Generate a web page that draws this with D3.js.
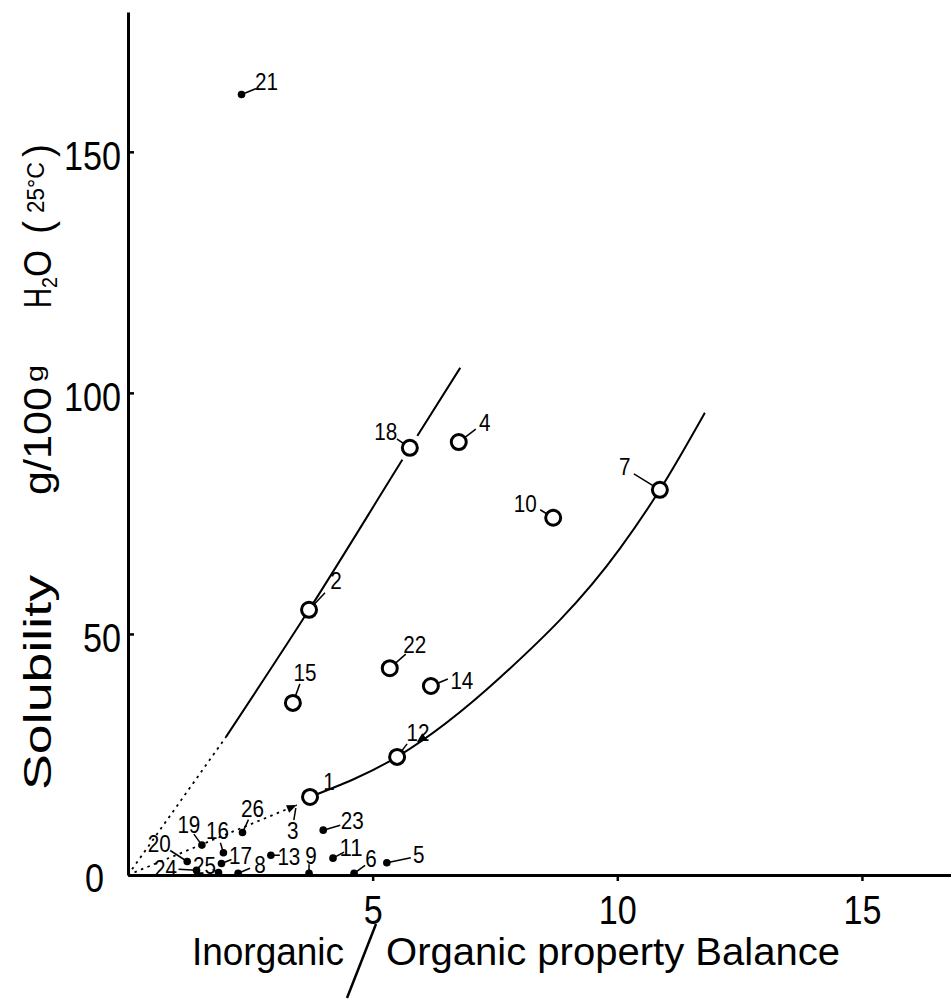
<!DOCTYPE html>
<meta charset="utf-8">
<style>
body { margin: 0; background: #fff; }
svg { display: block; }
text { font-family: "Liberation Sans", Arial, sans-serif; fill: #000; }
.curve { stroke: #000; stroke-width: 2px; fill: none; }
.curve-dot { stroke: #000; stroke-width: 1.8px; stroke-dasharray: 2.5,4.5; fill: none; }
.open { fill: #fff; stroke: #000; stroke-width: 3px; }
.dot { fill: #000; }
.leader { stroke: #000; stroke-width: 1.5px; }
</style>
<svg width="951" height="1000"></svg>
<script src="https://d3js.org/d3.v7.min.js"></script>
<script>

// compounds drawn as open circles: number, I/O balance, solubility (g/100g H2O)
var openIds = [1, 2, 4, 7, 10, 12, 14, 15, 18, 22];
var openIOB = [3.72, 3.70, 6.76, 10.87, 8.69, 5.50, 6.19, 3.37, 5.76, 5.35];
var openSol = [16.2, 55.0, 89.8, 79.9, 74.1, 24.5, 39.2, 35.7, 88.6, 42.9];

// compounds drawn as small filled dots
var dotIds = [5, 6, 8, 9, 11, 13, 16, 17, 19, 20, 21, 23, 24, 25, 26];
var dotIOB = [5.29, 4.62, 2.25, 3.70, 4.19, 2.92, 1.95, 1.91, 1.51, 1.21, 2.32, 3.99, 1.40, 1.85, 2.34];
var dotSol = [2.55, 0.35, 0.35, 0.35, 3.5, 4.1, 4.6, 2.4, 6.2, 2.8, 161.9, 9.3, 1.0, 0.5, 8.8];

// compound 3 sits at the arrow tip of the dotted line
var c3IOB = 3.45, c3Sol = 14.5;

// left curve (2, 18)
var curveADotIOB = [0, 2.0];
var curveADotSol = [0, 28.6];
var curveAIOB = [2.0, 3.70, 5.76, 6.79];
var curveASol = [28.6, 55.0, 88.6, 105.2];

// right curve (1, 12, 7)
var curveBDotIOB = [0, 3.45];
var curveBDotSol = [0, 14.5];
var curveBIOB = [3.72, 5.50, 7.61, 10.06, 10.87, 11.79];
var curveBSol = [16.2, 24.5, 41.0, 67.8, 79.9, 95.9];

var xTicks = [5, 10, 15];
var yTicks = [0, 50, 100, 150];

var svg = d3.select("svg");

var x = d3.scaleLinear().domain([0, 16.82]).range([128, 951]);
var y = d3.scaleLinear().domain([0, 179]).range([875, 12]);

function pairs(a, b) { return a.map(function(v, i) { return [v, b[i]]; }); }

var straight = d3.line().x(function(d) { return x(d[0]); }).y(function(d) { return y(d[1]); });
var smooth = d3.line().x(function(d) { return x(d[0]); }).y(function(d) { return y(d[1]); })
    .curve(d3.curveMonotoneX);

// axes
var yAxis = d3.axisLeft(y).tickValues(yTicks).tickSizeInner(-6).tickSizeOuter(0).tickPadding(7);
var xAxis = d3.axisBottom(x).tickValues(xTicks).tickSizeInner(6).tickSizeOuter(0).tickPadding(15);

var gy = svg.append("g").attr("transform", "translate(" + x(0) + ",0)").call(yAxis);
var gx = svg.append("g").attr("transform", "translate(0," + y(0) + ")").call(xAxis);

[gx, gy].forEach(function(g) {
  g.select(".domain").attr("stroke-width", 3);
  g.selectAll(".tick line").attr("stroke-width", 2.5);
  g.selectAll(".tick text")
    .attr("font-family", "Liberation Sans, Arial, sans-serif")
    .attr("font-size", 40)
    .attr("lengthAdjust", "spacingAndGlyphs")
    .attr("textLength", function(d) { return String(d).length * 19; });
});
gy.selectAll(".tick text").attr("dy", "0.43em");
gy.selectAll(".tick").filter(function(d) { return d === 0; })
  .select("text").attr("x", -24).attr("dy", "0.4em");

// curves
svg.append("path").attr("class", "curve-dot").attr("d", straight(pairs(curveADotIOB, curveADotSol)));
svg.append("path").attr("class", "curve-dot").attr("d", straight(pairs(curveBDotIOB, curveBDotSol)));
svg.append("path").attr("class", "curve").attr("d", smooth(pairs(curveAIOB, curveASol)));
svg.append("path").attr("class", "curve").attr("d", smooth(pairs(curveBIOB, curveBSol)));

function arrowHead(tip, from) {
  var tx = x(tip[0]), ty = y(tip[1]);
  var a = Math.atan2(ty - y(from[1]), tx - x(from[0]));
  var L = 10, W = 4;
  var bx = tx - L * Math.cos(a), by = ty - L * Math.sin(a);
  var px = -Math.sin(a) * W, py = Math.cos(a) * W;
  svg.append("path")
    .attr("d", "M" + tx + "," + ty + "L" + (bx + px) + "," + (by + py) + "L" + (bx - px) + "," + (by - py) + "Z")
    .attr("fill", "#000");
}
arrowHead([c3IOB, c3Sol], [3.0, 12.6]);
arrowHead([5.9, 27.5], [6.3, 30.6]);

// label placement relative to the marker: [label dx, label dy, leader end dx, leader end dy]
var labelPos = {
  1: [19, -16, null, null], 2: [27, -29, 16, -17], 4: [26, -20, 17, -13],
  7: [-35, -23, -26, -16], 10: [-28, -14, -13, -8], 12: [21, -25, 10, -13],
  14: [31, -6, 17, -7], 15: [12, -31, 7, -19], 18: [-24, -16, -13, -9],
  22: [25, -24, 16, -14], 5: [32, -8, 24, -5], 6: [17, -15, 11, -8],
  8: [22, -9, 12, -5], 9: [2, -18, 0, -9], 11: [18, -11, 11, -6],
  13: [18, 1, 9, 0], 16: [-6, -22, -3, -10], 17: [19, -8, 10, -4],
  19: [-13, -21, -8, -11], 20: [-28, -18, -17, -11], 21: [25, -13, 15, -6],
  23: [29, -10, 17, -5], 24: [-31, -2, -18, -1], 25: [-14, -7, -6, -3],
  26: [10, -24, 6, -13]
};

var openData = openIds.map(function(id, i) { return {id: id, v: openIOB[i], s: openSol[i]}; });
var dotData = dotIds.map(function(id, i) { return {id: id, v: dotIOB[i], s: dotSol[i]}; });
var all = openData.concat(dotData);

// gap in the curve around 18
svg.selectAll(".halo").data(openData.filter(function(d) { return d.id === 18; }))
  .enter().append("circle")
    .attr("cx", function(d) { return x(d.v); })
    .attr("cy", function(d) { return y(d.s); })
    .attr("r", 14).attr("fill", "#fff");

svg.selectAll(".leader").data(all.filter(function(d) { return labelPos[d.id][2] !== null; }))
  .enter().append("line")
    .attr("class", "leader")
    .attr("x1", function(d) { return x(d.v); })
    .attr("y1", function(d) { return y(d.s); })
    .attr("x2", function(d) { return x(d.v) + labelPos[d.id][2]; })
    .attr("y2", function(d) { return y(d.s) + labelPos[d.id][3]; });

svg.selectAll(".open").data(openData)
  .enter().append("circle")
    .attr("class", "open")
    .attr("cx", function(d) { return x(d.v); })
    .attr("cy", function(d) { return y(d.s); })
    .attr("r", 7.5);

svg.selectAll(".dot").data(dotData)
  .enter().append("circle")
    .attr("class", "dot")
    .attr("cx", function(d) { return x(d.v); })
    .attr("cy", function(d) { return y(d.s); })
    .attr("r", 3.8);

svg.selectAll(".plabel").data(all)
  .enter().append("text")
    .attr("class", "plabel")
    .attr("x", function(d) { return x(d.v) + labelPos[d.id][0]; })
    .attr("y", function(d) { return y(d.s) + labelPos[d.id][1]; })
    .attr("dy", "0.36em")
    .attr("text-anchor", "middle")
    .attr("font-size", 24)
    .attr("lengthAdjust", "spacingAndGlyphs")
    .attr("textLength", function(d) { return String(d.id).length * 11.5; })
    .text(function(d) { return d.id; });

// label 3 below the arrow
svg.append("line").attr("class", "leader")
  .attr("x1", x(c3IOB) - 1).attr("y1", y(c3Sol) + 3)
  .attr("x2", x(c3IOB) - 3).attr("y2", y(c3Sol) + 15);
svg.append("text")
  .attr("x", x(c3IOB) - 4).attr("y", y(c3Sol) + 25)
  .attr("dy", "0.36em").attr("text-anchor", "middle")
  .attr("font-size", 24).attr("lengthAdjust", "spacingAndGlyphs").attr("textLength", 11.5)
  .text("3");

// x axis title
svg.append("text").attr("x", 192).attr("y", 965).attr("font-size", 38)
  .attr("lengthAdjust", "spacingAndGlyphs").attr("textLength", 152).text("Inorganic");
svg.append("line").attr("x1", 376).attr("y1", 924).attr("x2", 347).attr("y2", 998)
  .attr("stroke", "#000").attr("stroke-width", 2.5);
svg.append("text").attr("x", 386).attr("y", 965).attr("font-size", 38)
  .attr("lengthAdjust", "spacingAndGlyphs").attr("textLength", 454).text("Organic property Balance");

// y axis title, pieces along the rotated baseline
function yPiece(str, yStart, len, size, base) {
  svg.append("text")
    .attr("transform", "translate(" + base + "," + yStart + ") rotate(-90)")
    .attr("font-size", size)
    .attr("lengthAdjust", "spacingAndGlyphs")
    .attr("textLength", len)
    .text(str);
}
yPiece("Solubility", 790, 215, 38, 51);
yPiece("g/100", 495, 108, 38, 51);
yPiece("g", 382, 17, 24, 43);
yPiece("H", 308, 20, 38, 51);
yPiece("2", 288, 11, 22, 57);
yPiece("O", 277, 27, 38, 51);
yPiece("(", 234, 13, 40, 52);
yPiece("25", 213, 25, 23, 44);
yPiece("°C", 188, 26, 23, 44);
yPiece(")", 157, 13, 40, 52);

</script>
